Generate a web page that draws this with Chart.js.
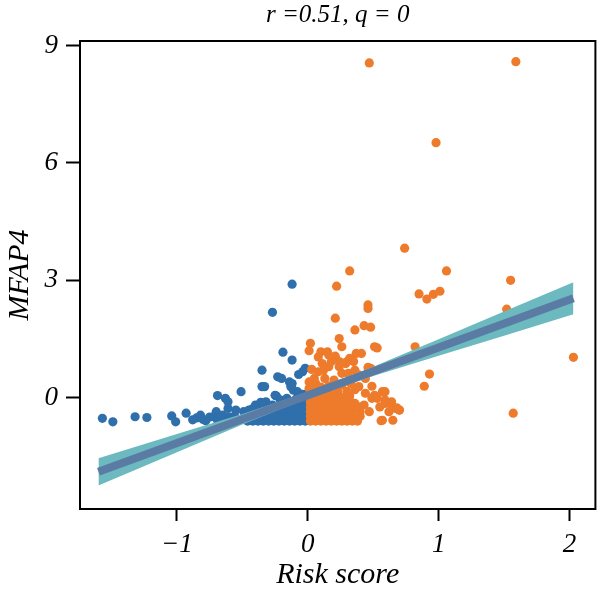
<!DOCTYPE html>
<html>
<head>
<meta charset="utf-8">
<script src="https://cdn.jsdelivr.net/npm/chart.js@4"></script>
<style>
	body { margin: 0; background: #fff; }
	#wrap { width: 600px; height: 593px; }
</style>
</head>
<body>
<div id="wrap"><canvas id="scatter_chart"></canvas></div>
<script>
// ---------------- data ----------------
const x_ticks = [-1, 0, 1, 2];
const y_ticks = [0, 3, 6, 9];

// low risk group (risk score < 0)
const blue_points = [
	[-1.57, -0.53], [-1.49, -0.62], [-1.32, -0.49], [-1.23, -0.51], [-1.04, -0.47],
	[-1.01, -0.62], [-0.93, -0.40], [-0.88, -0.57], [-0.85, -0.52], [-0.82, -0.45],
	[-0.80, -0.56], [-0.78, -0.59], [-0.75, -0.50], [-0.72, -0.49], [-0.70, -0.36],
	[-0.69, -0.58], [-0.66, -0.55], [-0.65, -0.45], [-0.69, 0.05], [-0.63, -0.02],
	[-0.61, -0.11], [-0.61, -0.28], [-0.60, -0.50], [-0.58, -0.55], [-0.56, -0.47],
	[-0.55, -0.32], [-0.53, -0.58], [-0.51, 0.15], [-0.49, -0.36], [-0.47, -0.52],
	[-0.45, -0.32], [-0.44, -0.45], [-0.42, -0.28], [-0.37, -0.19], [-0.32, -0.11],
	[-0.40, -0.19], [-0.36, -0.12], [-0.34, -0.17],
	[-0.35, 0.28], [-0.33, 0.28], [-0.35, 0.70], [-0.24, 0.04], [-0.25, 0.06],
	[-0.21, -0.06], [-0.23, 0.53], [-0.20, 0.49],
	[-0.19, 1.16], [-0.12, 0.96], [-0.27, 2.18], [-0.12, 2.90], [-0.14, 0.40],
	[-0.12, 0.36], [-0.13, 0.28], [-0.11, 0.19], [-0.08, 0.15], [-0.07, 0.11],
	[-0.07, 0.59], [-0.04, 0.66], [-0.02, 0.75], [-0.16, -0.02], [-0.08, -0.02],
	[-0.30, -0.24], [-0.27, -0.19],
	// dense block near zero
	[-0.46, -0.60], [-0.42, -0.60], [-0.38, -0.60], [-0.34, -0.60], [-0.30, -0.60],
	[-0.26, -0.60], [-0.22, -0.60], [-0.18, -0.60], [-0.14, -0.60], [-0.10, -0.60],
	[-0.06, -0.60], [-0.02, -0.60],
	[-0.43, -0.50], [-0.39, -0.50], [-0.35, -0.50], [-0.31, -0.50], [-0.27, -0.50],
	[-0.23, -0.50], [-0.19, -0.50], [-0.15, -0.50], [-0.11, -0.50], [-0.07, -0.50],
	[-0.04, -0.50], [-0.01, -0.50],
	[-0.33, -0.40], [-0.29, -0.40], [-0.25, -0.40], [-0.21, -0.40], [-0.17, -0.40],
	[-0.13, -0.40], [-0.09, -0.40], [-0.05, -0.40], [-0.02, -0.40],
	[-0.24, -0.28], [-0.20, -0.28], [-0.16, -0.28], [-0.12, -0.28], [-0.08, -0.28],
	[-0.05, -0.28], [-0.02, -0.28],
	[-0.15, -0.16], [-0.11, -0.16], [-0.07, -0.16], [-0.04, -0.16], [-0.02, -0.16],
	[-0.09, -0.04], [-0.05, -0.04], [-0.02, -0.04],
	[-0.04, 0.08], [-0.02, 0.08],
];

// high risk group (risk score > 0)
const orange_points = [
	[0.47, 8.56], [1.59, 8.59], [0.98, 6.52], [0.74, 3.82], [0.32, 3.24],
	[1.06, 3.24], [1.55, 3.00], [1.52, 2.26], [2.03, 1.03], [1.57, -0.40],
	[0.85, 2.65], [0.91, 2.52], [0.96, 2.64], [1.01, 2.72],
	[0.82, 1.30], [0.93, 0.60], [0.89, 0.29], [0.70, -0.32],
	[0.22, 2.85], [0.46, 2.37], [0.46, 2.28], [0.21, 2.03],
	[0.36, 1.73], [0.43, 1.84], [0.48, 1.80], [0.24, 1.51], [0.26, 1.30],
	[0.02, 1.39], [0.01, 1.20], [0.53, 1.27], [0.51, 1.30],
	[0.10, 1.17], [0.15, 1.17], [0.08, 1.04], [0.16, 1.09], [0.21, 1.06],
	[0.24, 0.92], [0.18, 0.92], [0.11, 0.87], [0.16, 0.79], [0.12, 0.70],
	[0.08, 0.66], [0.24, 0.79], [0.29, 0.87], [0.32, 1.00], [0.35, 0.92],
	[0.37, 1.13], [0.41, 1.13], [0.26, 0.62], [0.31, 0.62], [0.36, 0.70],
	[0.39, 0.58], [0.44, 0.49], [0.48, 0.75], [0.50, 0.70], [0.03, 0.72],
	[0.57, 0.15], [0.59, -0.06], [0.64, -0.11], [0.67, -0.28], [0.70, -0.32],
	[0.57, -0.58], [0.65, -0.58], [0.39, 0.28], [0.44, 0.11], [0.49, -0.02],
	[0.43, -0.19], [0.36, -0.15], [0.34, -0.32], [0.29, -0.40], [0.24, -0.58],
	[0.31, -0.58], [0.01, 0.40], [0.05, 0.49], [0.01, 0.24], [0.06, 0.36],
	[0.13, 0.49], [0.20, 0.45], [0.59, 0.15], [0.59, -0.15], [0.64, -0.19],
	[0.68, -0.26], [0.56, -0.59], [0.49, 0.29], [0.51, 0.06], [0.55, -0.24],
	[0.62, -0.36], [0.46, 0.77], [0.30, 0.92], [0.53, -0.02],
	// dense block near zero
	[0.02, -0.60], [0.06, -0.60], [0.10, -0.60], [0.14, -0.60], [0.18, -0.60],
	[0.22, -0.60], [0.26, -0.60], [0.30, -0.60], [0.34, -0.60], [0.38, -0.60],
	[0.02, -0.48], [0.06, -0.48], [0.10, -0.48], [0.14, -0.48], [0.18, -0.48],
	[0.22, -0.48], [0.26, -0.48], [0.30, -0.48], [0.34, -0.48], [0.40, -0.48],
	[0.02, -0.36], [0.06, -0.36], [0.10, -0.36], [0.14, -0.36], [0.18, -0.36],
	[0.22, -0.36], [0.26, -0.36], [0.30, -0.36], [0.40, -0.36], [0.47, -0.36],
	[0.02, -0.24], [0.06, -0.24], [0.10, -0.24], [0.14, -0.24], [0.18, -0.24],
	[0.22, -0.24], [0.27, -0.24], [0.32, -0.24], [0.39, -0.24],
	[0.02, -0.12], [0.06, -0.12], [0.10, -0.12], [0.14, -0.12], [0.18, -0.12],
	[0.23, -0.12], [0.28, -0.12], [0.32, -0.08],
	[0.02, 0.00], [0.06, 0.00], [0.10, 0.00], [0.15, 0.00], [0.20, 0.00],
	[0.26, 0.00], [0.32, 0.04],
	[0.02, 0.12], [0.07, 0.12], [0.12, 0.12], [0.17, 0.12], [0.23, 0.14],
	[0.30, 0.16], [0.36, 0.20],
	[0.04, 0.24], [0.10, 0.27], [0.16, 0.30], [0.26, 0.32], [0.33, 0.36],
];

// fitted line and its confidence band
const fit_x = [-1.6, 2.03];
const fit_y = [-1.90, 2.54];
const band_x = [-1.6, -1.0, -0.5, 0, 0.5, 1.0, 1.5, 2.03];
const band_upper = [-1.55, -0.93, -0.42, 0.14, 0.79, 1.49, 2.20, 2.95];
const band_lower = [-2.25, -1.40, -0.69, -0.02, 0.55, 1.07, 1.58, 2.13];

const chart_title = "r =0.51, q = 0";
const x_title = "Risk score";
const y_title = "MFAP4";

// -----------------------------------------------------------

function to_xy(list) {
	return list.map(function (p) {
		return { x: p[0], y: p[1] };
	});
}

function zip_xy(xs, ys) {
	let out = [];
	for (let i = 0; i < xs.length; i++) {
		out.push({ x: xs[i], y: ys[i] });
	}
	return out;
}

const serif = "'Liberation Serif'";

// draws the closed box around the plot
const frame_plugin = {
	id: "frame_plugin",
	afterDraw: function (chart) {
		const a = chart.chartArea;
		const ctx = chart.ctx;
		ctx.save();
		ctx.strokeStyle = "#000";
		ctx.lineWidth = 2;
		ctx.strokeRect(a.left, a.top, a.right - a.left, a.bottom - a.top);
		ctx.restore();
	},
};

function draw_chart() {
	const ctx = document.getElementById("scatter_chart").getContext("2d");

	const myChart = new Chart(ctx, {
		type: "scatter",
		data: {
			datasets: [
				{
					type: "line",
					label: "fit",
					data: zip_xy(fit_x, fit_y),
					borderColor: "#5a7ca4",
					borderWidth: 8,
					pointRadius: 0,
					fill: false,
					order: 0,
				},
				{
					type: "line",
					label: "upper",
					data: zip_xy(band_x, band_upper),
					borderWidth: 0,
					borderColor: "rgba(0,0,0,0)",
					backgroundColor: "#6cb9c0",
					pointRadius: 0,
					fill: "+1",
					order: 1,
				},
				{
					type: "line",
					label: "lower",
					data: zip_xy(band_x, band_lower),
					borderWidth: 0,
					borderColor: "rgba(0,0,0,0)",
					pointRadius: 0,
					fill: false,
					order: 2,
				},
				{
					label: "high",
					data: to_xy(orange_points),
					backgroundColor: "#ee7b2b",
					borderWidth: 0,
					pointRadius: 4.6,
					order: 3,
				},
				{
					label: "low",
					data: to_xy(blue_points),
					backgroundColor: "#2f6fab",
					borderWidth: 0,
					pointRadius: 4.6,
					order: 4,
				},
			],
		},
		plugins: [frame_plugin],
		options: {
			responsive: true,
			maintainAspectRatio: false,
			animation: false,
			layout: { padding: { left: 0, right: 2, top: 0, bottom: 0 } },
			plugins: {
				legend: { display: false },
				tooltip: { enabled: false },
				title: {
					display: true,
					text: chart_title,
					fullSize: false,
					color: "#000",
					font: { family: serif, style: "italic", size: 25, weight: "normal" },
					padding: { top: 0, bottom: 11 },
				},
			},
			scales: {
				x: {
					type: "linear",
					min: -1.741,
					max: 2.198,
					afterBuildTicks: function (scale) {
						scale.ticks = x_ticks.map(function (v) {
							return { value: v };
						});
					},
					afterFit: function (scale) {
						scale.height = 84;
					},
					grid: { drawOnChartArea: false, tickLength: 12, tickWidth: 2, tickColor: "#000" },
					border: { color: "#000", width: 2 },
					ticks: {
						color: "#000",
						padding: 8,
						font: { family: serif, style: "italic", size: 27 },
						callback: function (v) {
							return String(v).replace("-", "\u2212");
						},
					},
					title: {
						display: true,
						text: x_title,
						color: "#000",
						font: { family: serif, style: "italic", size: 30 },
						padding: { top: 0, bottom: 0 },
					},
				},
				y: {
					type: "linear",
					min: -2.85,
					max: 9.12,
					afterBuildTicks: function (scale) {
						scale.ticks = y_ticks.map(function (v) {
							return { value: v };
						});
					},
					afterFit: function (scale) {
						scale.width = 80;
					},
					grid: { drawOnChartArea: false, tickLength: 14, tickWidth: 2, tickColor: "#000" },
					border: { color: "#000", width: 2 },
					ticks: {
						color: "#000",
						padding: 8,
						font: { family: serif, style: "italic", size: 27 },
					},
					title: {
						display: true,
						text: y_title,
						color: "#000",
						font: { family: serif, style: "italic", size: 30 },
						padding: { top: 2, bottom: 0 },
					},
				},
			},
		},
	});
}

document.fonts.load("italic 27px 'Liberation Serif'").then(draw_chart, draw_chart);
</script>
</body>
</html>
